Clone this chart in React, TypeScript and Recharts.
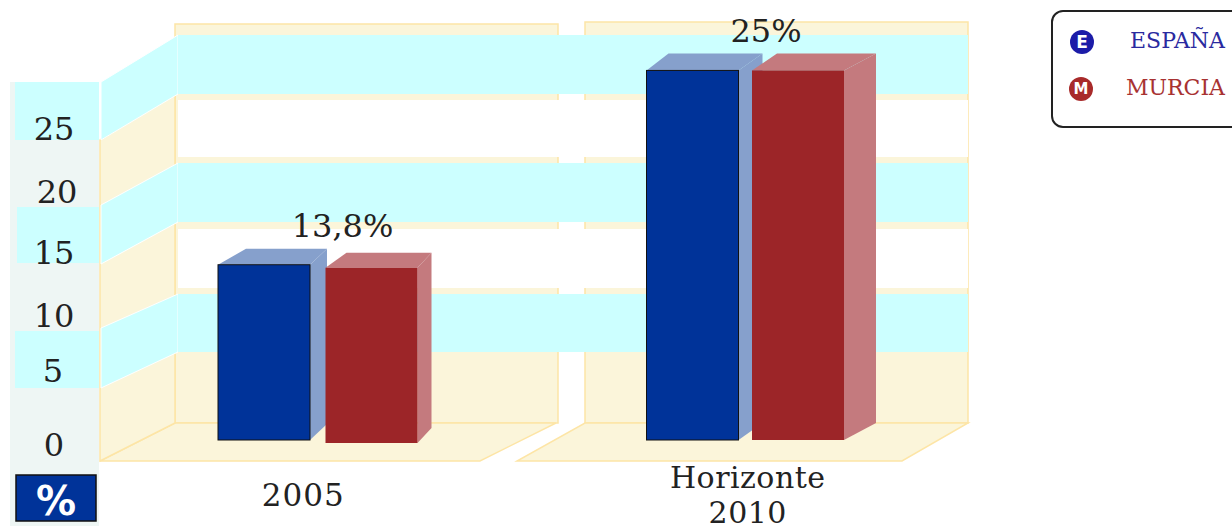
// Pseudo-3D grouped bars: España vs Murcia, 2005 and Horizonte 2010.
import { BarChart, Bar, XAxis, YAxis, Legend, LabelList, Customized } from "recharts";

const categories = ["2005", "Horizonte 2010"];
const espana = [13.8, 29.1]; // the 2010 bars are drawn taller than their "25%" label says
const murcia = [13.8, 29.1];
const valueLabels = ["13,8%", "25%"];
const yTicks = [0, 5, 10, 15, 20, 25];

const chartData = categories.map((c, i) => ({
  category: c,
  espana: espana[i],
  murcia: murcia[i],
  label: valueLabels[i],
}));

const FONT = "'DejaVu Serif', serif";
const CREAM = "#fbf5da";
const CREAM_LINE = "#fde5a6";
const CYAN = "#ccffff";
const PALE = "#eef6f4";

// hand-drawn look of the source: tick labels don't sit exactly on their values
const tickNudge: Record<number, [number, number]> = {
  0: [0, 5], 5: [-1, -6], 10: [0, 3], 15: [0, 3], 20: [3, 6], 25: [0, 6],
};

function poly(points: number[][]) {
  return points.map((p) => p.join(",")).join(" ");
}

// Walls, floor and the striped bands behind the bars
function Room() {
  const backBands = [[35, 94, CYAN], [100, 157, "#fff"], [163, 222, CYAN], [229, 288, "#fff"], [294, 352, CYAN]] as const;
  const sideBands = [[82, 140, 35, 94], [205, 264, 163, 222], [328, 388, 294, 352]];
  return (
    <g>
      {/* left column */}
      <rect x={10} y={82} width={89} height={444} fill={PALE} />
      <rect x={15} y={82} width={84} height={58} fill={CYAN} />
      <rect x={17} y={207} width={82} height={56} fill={CYAN} />
      <rect x={15} y={331} width={84} height={57} fill={CYAN} />

      {/* back panels + floors */}
      <rect x={175} y={24} width={383} height={399} fill={CREAM} stroke={CREAM_LINE} strokeWidth={1.5} />
      <rect x={585} y={22} width={383} height={401} fill={CREAM} stroke={CREAM_LINE} strokeWidth={1.5} />
      <polygon points={poly([[100, 461], [480, 461], [556, 423], [175, 423]])} fill={CREAM} stroke={CREAM_LINE} strokeWidth={1.5} />
      <polygon points={poly([[517, 461], [902, 461], [968, 423], [585, 423]])} fill={CREAM} stroke={CREAM_LINE} strokeWidth={1.5} />

      {/* side wall */}
      <polygon points={poly([[100, 461], [100, 140], [175, 94], [175, 423]])} fill={CREAM} stroke={CREAM_LINE} strokeWidth={1.5} />
      {sideBands.map(([a, b, c, d]) => (
        <polygon key={a} points={poly([[101, a], [101, b], [178, d], [178, c]])} fill={CYAN} stroke="#fff" />
      ))}

      {/* back wall stripes */}
      {backBands.map(([top, bottom, fill]) => (
        <rect key={top} x={178} y={top} width={790} height={bottom - top} fill={fill} />
      ))}
      {/* gap between the two back panels, under the stripes */}
      <rect x={559} y={353} width={25} height={69} fill="#fff" />

      {/* % tag */}
      <rect x={16} y={475} width={80} height={46} fill="#003399" stroke="#111" strokeWidth={1.5} />
      <text x={56} y={515} textAnchor="middle" fontFamily="'DejaVu Sans', sans-serif" fontWeight={700} fontSize={40} fill="#fff">%</text>
    </g>
  );
}

// depth of each bar's top/side faces, per category: [left dx, right dx, rise, y shift, x shift]
const espanaDepth = [[28, 17, 16, 0, 0], [22, 24, 17, 0, 0]];
const murciaDepth = [[21, 14, 15, 3, 0], [25, 32, 17, 0, -2]];

function Bar3D({ x: x0, y, width, height, index, fill, light, depth, edge }: any) {
  const [dl, dr, rise, shift, xShift] = depth[index];
  const x = x0 + xShift;
  const top = y + shift;
  const bottom = y + height + shift;
  const right = x + width;
  return (
    <g>
      <polygon
        points={poly([[right, top], [right + dr, top - rise], [right + dr, bottom - rise], [right, bottom]])}
        fill={light}
      />
      <polygon
        points={poly([[x, top], [x + dl, top - rise], [right + dr, top - rise], [right, top]])}
        fill={light}
      />
      <rect x={x} y={top} width={width} height={height} fill={fill} stroke={edge} strokeWidth={edge === "none" ? 0 : 1} />
    </g>
  );
}

function YTick({ y, payload }: any) {
  const [nx, ny] = tickNudge[payload.value] ?? [0, 0];
  return (
    <text x={54 + nx} y={y + ny + 11} textAnchor="middle" fontFamily={FONT} fontSize={32} fill="#222">
      {payload.value}
    </text>
  );
}

function XTick({ x, payload }: any) {
  if (payload.value === "2005") {
    return (
      <text x={x - 14} y={506} textAnchor="middle" fontFamily={FONT} fontSize={31} letterSpacing={1} fill="#222">
        2005
      </text>
    );
  }
  const [a, b] = payload.value.split(" ");
  return (
    <text textAnchor="middle" fontFamily={FONT} fontSize={30} letterSpacing={0.5} fill="#222">
      <tspan x={x + 2} y={487.5}>{a}</tspan>
      <tspan x={x + 2} y={522.5}>{b}</tspan>
    </text>
  );
}

const labelShift = [17, 12];

function ValueLabel({ x, y, value, index }: any) {
  return (
    <text x={x + labelShift[index]} y={y - 28} textAnchor="middle" fontFamily={FONT} fontSize={32} fill="#222">
      {value}
    </text>
  );
}

function LegendBox({ payload }: any) {
  const textColor: Record<string, string> = { "ESPAÑA": "#2a2aa0", MURCIA: "#a83232" };
  const dotColor: Record<string, string> = { "ESPAÑA": "#1c1ca8", MURCIA: "#a82a2a" };
  return (
    <div style={{ width: 200, height: 114, border: "2px solid #222", borderRadius: 12, background: "#fff", position: "relative" }}>
      {(payload ?? []).map((p: any, i: number) => (
        <div key={p.value}>
          <span
            style={{
              position: "absolute", left: 17 - (i ? 1 : 0), top: 18 + i * 47, width: 24, height: 24, borderRadius: 12,
              background: dotColor[p.value], color: "#fff", fontFamily: "'DejaVu Sans', sans-serif", fontWeight: 700,
              fontSize: i ? 15 : 17, lineHeight: "24px", textAlign: "center",
            }}
          >
            {p.value[0]}
          </span>
          <span
            style={{
              position: "absolute", right: 28, top: 16 + i * 47, fontFamily: FONT, fontSize: 22,
              color: textColor[p.value], whiteSpace: "nowrap",
            }}
          >
            {p.value}
          </span>
        </div>
      ))}
    </div>
  );
}

export default function App() {
  return (
    <div style={{ position: "absolute", left: 0, top: 0, width: 1232, height: 530, overflow: "hidden", background: "#fff" }}>
      <BarChart
        width={1232}
        height={530}
        data={chartData}
        margin={{ top: 59, right: 68, bottom: 0, left: 0 }}
        barSize={92}
        barGap={15.5}
      >
        <Customized component={Room} />
        <XAxis dataKey="category" height={90} axisLine={false} tickLine={false} interval={0} tick={<XTick />} />
        <YAxis width={103} domain={[0, 30]} ticks={yTicks} axisLine={false} tickLine={false} tick={<YTick />} />
        <Legend
          layout="vertical"
          align="right"
          verticalAlign="top"
          content={<LegendBox />}
          wrapperStyle={{ position: "absolute", left: 1051, top: 10, width: 204, height: 118 }}
        />
        <Bar
          dataKey="espana"
          name="ESPAÑA"
          fill="#003399"
          isAnimationActive={false}
          shape={(p: any) => <Bar3D {...p} fill="#003399" light="#86a0cc" depth={espanaDepth} edge="#111" />}
        />
        <Bar
          dataKey="murcia"
          name="MURCIA"
          fill="#9c2528"
          isAnimationActive={false}
          shape={(p: any) => <Bar3D {...p} fill="#9c2528" light="#c47a7e" depth={murciaDepth} edge="none" />}
        >
          <LabelList dataKey="label" position="top" content={<ValueLabel />} />
        </Bar>
      </BarChart>
    </div>
  );
}
